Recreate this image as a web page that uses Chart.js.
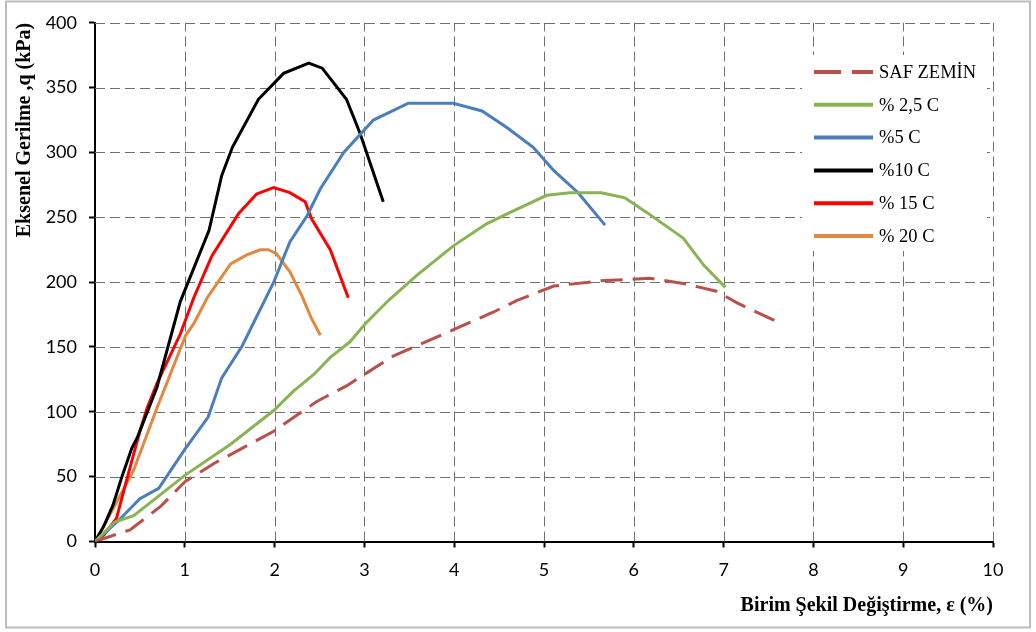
<!DOCTYPE html>
<html>
<head>
<meta charset="utf-8">
<script src="https://cdn.jsdelivr.net/npm/chart.js@4.4.1/dist/chart.umd.min.js"></script>
<style>
html, body { margin: 0; padding: 0; background: #fff; }
#grafik { display: block; }
</style>
</head>
<body>
<canvas id="grafik" width="1036" height="632"></canvas>
<script>
// Seri adlari ve renkleri
const seriAdlari = ['SAF ZEMİN', '% 2,5 C', '%5 C', '%10 C', '% 15 C', '% 20 C'];
const renkler = ['#B8504C', '#8AB356', '#4C7EBB', '#000000', '#FF0000', '#E3893F'];

// Birim sekil degistirme (%) ve eksenel gerilme (kPa) degerleri
const safX = [0, 0.39, 0.73, 1.0, 1.32, 1.99, 2.47, 2.8, 3.32, 3.98, 4.44, 4.7, 5.11, 5.63, 6.18, 6.55, 6.92, 7.15, 7.58];
const safY = [0, 9, 27, 46, 60, 85, 108, 120, 143, 163, 177, 186, 197, 201, 203, 199, 193, 184, 170];

const c25X = [0, 0.22, 0.43, 0.69, 1.0, 1.51, 1.99, 2.21, 2.44, 2.62, 2.84, 3.01, 3.27, 3.58, 3.99, 4.36, 4.6, 5.03, 5.29, 5.64, 5.9, 6.14, 6.55, 6.78, 7.02];
const c25Y = [0, 15, 20, 34, 51, 75, 101, 116, 129, 142, 154, 168, 186, 205, 228, 245, 253, 267, 269, 269, 265, 254, 234, 213, 196];

const c5X = [0, 0.26, 0.5, 0.71, 1.0, 1.26, 1.41, 1.64, 1.99, 2.17, 2.36, 2.51, 2.77, 3.1, 3.49, 3.99, 4.31, 4.59, 4.88, 5.11, 5.38, 5.68];
const c5Y = [0, 16, 33, 41, 71, 96, 126, 151, 200, 231, 251, 272, 300, 325, 338, 338, 332, 319, 304, 286, 269, 244];

const c10X = [0, 0.1, 0.2, 0.3, 0.41, 0.47, 0.69, 0.95, 1.27, 1.41, 1.53, 1.82, 2.1, 2.38, 2.53, 2.8, 2.95, 3.21];
const c10Y = [0, 12, 28, 50, 72, 80, 119, 185, 240, 282, 304, 341, 361, 369, 365, 341, 315, 262];

const c15X = [0, 0.1, 0.24, 0.37, 0.5, 0.58, 0.69, 0.95, 1.1, 1.3, 1.6, 1.8, 1.99, 2.17, 2.34, 2.41, 2.62, 2.82];
const c15Y = [0, 5, 18, 52, 85, 103, 122, 160, 188, 220, 253, 268, 273, 269, 262, 249, 225, 188];

const c20X = [0, 0.2, 0.43, 0.69, 1.01, 1.1, 1.25, 1.51, 1.69, 1.84, 1.93, 2.02, 2.17, 2.3, 2.41, 2.51];
const c20Y = [0, 25, 55, 103, 159, 168, 188, 214, 221, 225, 225, 222, 208, 190, 172, 159];

const seriX = [safX, c25X, c5X, c10X, c15X, c20X];
const seriY = [safY, c25Y, c5Y, c10Y, c15Y, c20Y];

function noktalar(xs, ys) {
    return xs.map(function (x, i) { return { x: x, y: ys[i] }; });
}

var veriSetleri = seriAdlari.map(function (ad, i) {
    return {
        label: ad,
        data: noktalar(seriX[i], seriY[i]),
        borderColor: renkler[i],
        backgroundColor: renkler[i],
        borderWidth: 3,
        borderDash: i === 0 ? [22, 10] : [],
        pointRadius: 0,
        tension: 0,
        fill: false
    };
});

// Cerceve ve beyaz zemin
const cercevePlugin = {
    id: 'cerceve',
    beforeDraw: function (chart) {
        const c = chart.ctx;
        c.save();
        c.fillStyle = '#fff';
        c.fillRect(0, 0, chart.width, chart.height);
        c.strokeStyle = '#BDBDBD';
        c.lineWidth = 2;
        c.strokeRect(6, 1.5, 1024, 626);
        c.restore();
    }
};

// Kesikli izgara cizgileri
const izgaraPlugin = {
    id: 'izgara',
    beforeDatasetsDraw: function (chart) {
        const c = chart.ctx;
        const a = chart.chartArea;
        const sx = chart.scales.x, sy = chart.scales.y;
        c.save();
        c.strokeStyle = '#707070';
        c.lineWidth = 1;
        c.setLineDash([10, 5]);
        sx.ticks.forEach(function (t) {
            if (t.value === 0) return;
            const px = Math.round(sx.getPixelForValue(t.value)) + 0.5;
            c.beginPath();
            c.moveTo(px, a.bottom);
            c.lineTo(px, a.top);
            c.stroke();
        });
        sy.ticks.forEach(function (t) {
            if (t.value === 0) return;
            const py = Math.round(sy.getPixelForValue(t.value)) + 0.5;
            c.beginPath();
            c.moveTo(a.left, py);
            c.lineTo(a.right, py);
            c.stroke();
        });
        c.restore();
    }
};

// Grafik icindeki lejant
const lejantPlugin = {
    id: 'lejant',
    afterDraw: function (chart) {
        const c = chart.ctx;
        const x0 = 802, y0 = 55, w = 185, h = 196;
        c.save();
        c.fillStyle = '#fff';
        c.fillRect(x0, y0, w, h);
        chart.data.datasets.forEach(function (ds, i) {
            const y = 72 + i * 32.8;
            c.beginPath();
            c.strokeStyle = ds.borderColor;
            c.lineWidth = 4;
            c.setLineDash(ds.borderDash.length ? [27, 11] : []);
            c.moveTo(814, y);
            c.lineTo(873, y);
            c.stroke();
            c.setLineDash([]);
            c.fillStyle = '#000';
            c.font = '18.5px "Liberation Serif"';
            c.textBaseline = 'middle';
            c.textAlign = 'left';
            c.fillText(ds.label, 879, y + 1);
        });
        c.restore();
    }
};

const ctx = document.getElementById('grafik').getContext('2d');

var grafik = new Chart(ctx, {
    type: 'line',
    data: { datasets: veriSetleri },
    options: {
        responsive: false,
        animation: false,
        layout: { padding: { left: 5, right: 43, top: 19.5, bottom: 10.5 } },
        plugins: {
            legend: { display: false },
            tooltip: { enabled: false }
        },
        scales: {
            x: {
                type: 'linear',
                min: 0,
                max: 10,
                ticks: {
                    stepSize: 1,
                    color: '#000',
                    padding: 12,
                    font: { family: 'Lato', size: 18 }
                },
                grid: {
                    drawOnChartArea: false,
                    tickLength: 6,
                    tickColor: '#000',
                    tickWidth: 2
                },
                border: { color: '#000', width: 2 },
                title: {
                    display: true,
                    text: 'Birim Şekil Değiştirme, ε (%)',
                    align: 'end',
                    color: '#000',
                    font: { family: 'Liberation Serif', size: 20, weight: 'bold' },
                    padding: { top: 0, bottom: 4 }
                },
                afterFit: function (s) { s.height = 80; }
            },
            y: {
                min: 0,
                max: 400,
                ticks: {
                    stepSize: 50,
                    color: '#000',
                    padding: 12,
                    font: { family: 'Lato', size: 18 }
                },
                grid: {
                    drawOnChartArea: false,
                    tickLength: 6,
                    tickColor: '#000',
                    tickWidth: 2
                },
                border: { color: '#000', width: 2 },
                title: {
                    display: true,
                    text: 'Eksenel Gerilme ,q (kPa)',
                    align: 'end',
                    color: '#000',
                    font: { family: 'Liberation Serif', size: 20, weight: 'bold' },
                    padding: { top: 8, bottom: 0 }
                },
                afterFit: function (s) { s.width = 90; }
            }
        }
    },
    plugins: [cercevePlugin, izgaraPlugin, lejantPlugin]
});
</script>
</body>
</html>
